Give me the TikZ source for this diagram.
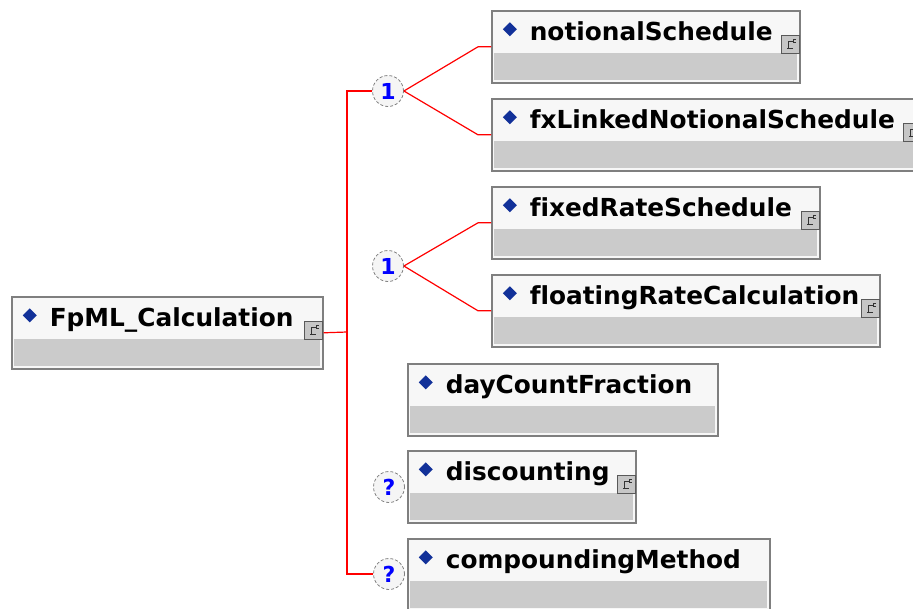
\documentclass[tikz,border=0pt]{standalone}
\usepackage{fontspec}
\setmainfont[Ligatures=NoCommon]{DejaVu Sans}
\usepackage{tikz}

\definecolor{boxline}{HTML}{7F7F7F}
\definecolor{topgray}{HTML}{F7F7F7}
\definecolor{lowgray}{HTML}{CBCBCB}
\definecolor{diamondblue}{HTML}{123199}

\begin{document}
\begin{tikzpicture}[
    x=1pt, y=-1pt,
    elem/.style={rectangle, draw=boxline, line width=1.6pt, fill=topgray,
        anchor=north west, inner sep=0pt, text width=#1, align=left,
        text height=30pt, text depth=42pt,
        font=\fontsize{24.8}{28}\selectfont\bfseries,
        execute at begin node={\hspace*{38pt}},
        path picture={
            \fill[lowgray] ([shift={(2.5pt,2.5pt)}]path picture bounding box.south west)
                rectangle ([shift={(-2.5pt,30pt)}]path picture bounding box.south east);
            \fill[diamondblue] ([shift={(18pt,-18.5pt)}]path picture bounding box.north west)
                +(0,7pt) -- +(7pt,0) -- +(0,-7pt) -- +(-7pt,0) -- cycle;
        }},
    choice/.style={circle, draw=gray, densely dashed, line width=0.8pt, fill=gray!8,
        minimum size=31pt, inner sep=0pt, text=blue,
        font=\fontsize{22}{22}\selectfont\bfseries},
    wire/.style={red, line width=1.2pt},
    expander/.style={draw=gray!70!black, line width=1pt, fill=gray!45},
    glyph/.style={draw=black!80, line width=0.8pt}
]
    \useasboundingbox (0,0) rectangle (913,608);

    \node[elem=311pt] (calc) at (11,296) {FpML\_Calculation};
    \node[elem=308pt] (notional) at (491,10) {notionalSchedule};
    \node[elem=430pt] (fxlinked) at (491,98) {fxLinkedNotionalSchedule};
    \node[elem=328pt] (fixed) at (491,186) {fixedRateSchedule};
    \node[elem=388pt] (floating) at (491,274) {floatingRateCalculation};
    \node[elem=310pt] (daycount) at (407,363) {dayCountFraction};
    \node[elem=228pt] (discounting) at (407,450) {discounting};
    \node[elem=362pt] (compounding) at (407,538) {compoundingMethod};

    \node[choice] (choice1) at (388,91) {1};
    \node[choice] (choice2) at (388,266) {1};
    \node[choice] (opt1) at (389,487) {?};
    \node[choice] (opt2) at (389,574) {?};

    \foreach \n in {calc,notional,fxlinked,fixed,floating,discounting} {
        \draw[expander] ([shift={(-19pt,-25pt)}]\n.north east) rectangle ++(18pt,-18pt);
        \draw[glyph] ([shift={(-8pt,-31pt)}]\n.north east) -- ++(-4pt,0pt)
            -- ++(0pt,-7pt) -- ++(-2pt,0pt) ++(2pt,0pt) -- ++(4pt,0pt);
        \draw[glyph] ([shift={(-5pt,-29pt)}]\n.north east) -- ++(-2pt,0pt) -- ++(0pt,-3pt) -- ++(2pt,0pt);
    }

    \coordinate (trunk) at (347,332);
    \draw[wire] (calc.east) -- (trunk);
    \draw[wire] (choice1.west) -| (trunk) |- (opt2.west);

    \draw[wire] (choice1.east) -- ([xshift=-13pt]notional.west) -- (notional.west);
    \draw[wire] (choice1.east) -- ([xshift=-13pt]fxlinked.west) -- (fxlinked.west);
    \draw[wire] (choice2.east) -- ([xshift=-13pt]fixed.west) -- (fixed.west);
    \draw[wire] (choice2.east) -- ([xshift=-13pt]floating.west) -- (floating.west);
\end{tikzpicture}
\end{document}
